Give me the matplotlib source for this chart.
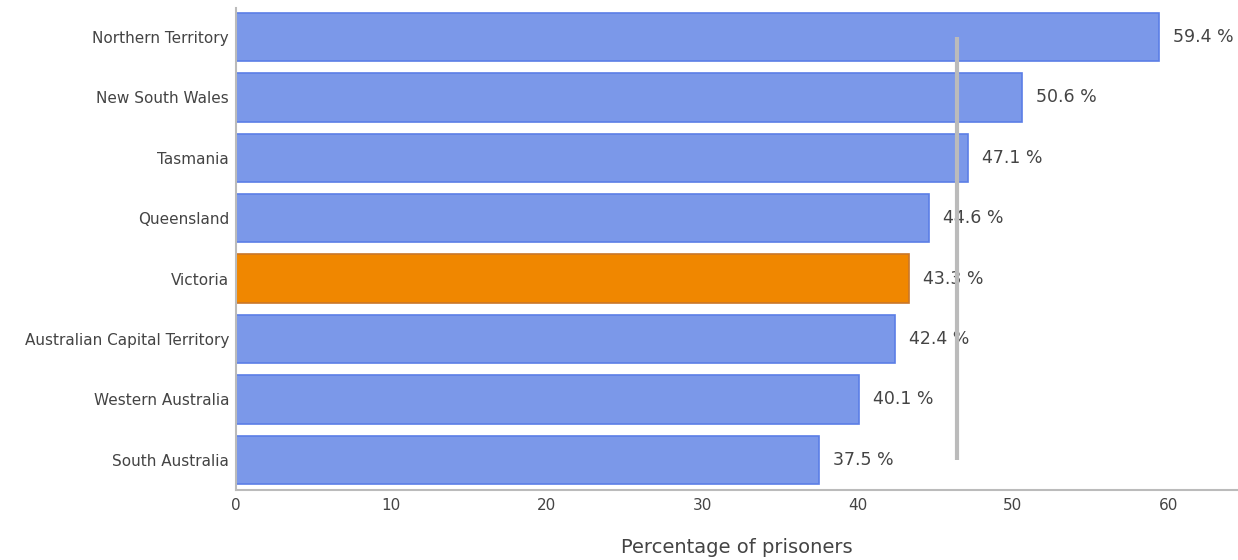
import matplotlib.pyplot as plt

states = [
    "Northern Territory",
    "New South Wales",
    "Tasmania",
    "Queensland",
    "Victoria",
    "Australian Capital Territory",
    "Western Australia",
    "South Australia",
]
values = [59.4, 50.6, 47.1, 44.6, 43.3, 42.4, 40.1, 37.5]
highlight = "Victoria"
average = 46.4
x_ticks = [0, 10, 20, 30, 40, 50, 60]

plt.rcParams["font.family"] = ["DejaVu Sans"]

fig = plt.figure(figsize=(12.38, 5.6), dpi=100)
ax = fig.add_axes([0.1906, 0.125, 0.8094, 0.8607])

positions = list(range(len(states)))
face = ["#f08700" if s == highlight else "#7b98e9" for s in states]
edge = ["#c9772a" if s == highlight else "#5b7ee6" for s in states]
ax.barh(positions, values, height=0.8, color=face, edgecolor=edge, linewidth=1.2, zorder=2)

# value labels to the right of each bar
for pos, val in zip(positions, values):
    ax.annotate(
        f"{val} %",
        xy=(val, pos),
        xytext=(14, 0),
        textcoords="offset pixels",
        va="center",
        ha="left",
        fontsize=12.5,
        color="#444444",
        zorder=3,
    )

# national average marker
ax.plot([average, average], [positions[0], positions[-1]], color="#bbbbbb", linewidth=3, zorder=4, solid_capstyle="butt")

ax.set_yticks(positions)
ax.set_yticklabels(states, fontsize=11, color="#444444")
ax.set_xticks(x_ticks)
ax.set_xticklabels([str(t) for t in x_ticks], fontsize=11, color="#444444")
ax.tick_params(axis="both", length=0)
ax.tick_params(axis="y", pad=5)
ax.tick_params(axis="x", pad=6)
ax.set_xlim(0, 64.5)
ax.set_ylim(7.5, -0.48)

ax.set_xlabel("Percentage of prisoners", fontsize=14, color="#444444", labelpad=18)

for side in ["top", "right"]:
    ax.spines[side].set_visible(False)
for side in ["left", "bottom"]:
    ax.spines[side].set_color("#bbbbbb")
    ax.spines[side].set_linewidth(1.5)

fig.savefig("out.png", dpi=100)
